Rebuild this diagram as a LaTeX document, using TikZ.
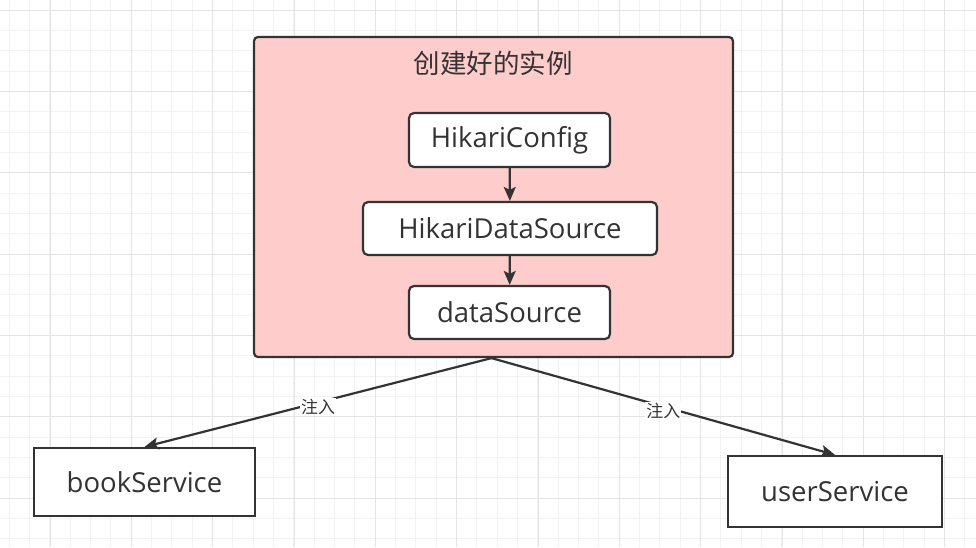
\documentclass[tikz,border=0pt]{standalone}
\usepackage{fontspec}
\setmainfont{Open Sans}
\newfontfamily\cjk{Noto Sans CJK SC}
\usetikzlibrary{arrows.meta}
\definecolor{ink}{HTML}{333333}
\definecolor{pinkfill}{HTML}{FFCCCC}
\definecolor{gridfine}{HTML}{F2F2F2}
\definecolor{gridmajor}{HTML}{E4E4E4}
\tikzset{
  container/.style={draw=ink, fill=pinkfill, line width=2.2pt, rounded corners=4pt},
  inner/.style={draw=ink, fill=white, line width=2.2pt, rounded corners=5pt, text=ink,
    font=\fontsize{27.5}{30}\selectfont, inner sep=0pt, minimum height=54pt},
  svc/.style={draw=ink, fill=white, line width=2.2pt, text=ink,
    font=\fontsize{27.5}{30}\selectfont, inner sep=0pt},
  conn/.style={draw=ink, line width=2.2pt, -{Stealth[length=14pt,width=12pt,inset=3pt]}},
  lbl/.style={fill=white, text=ink, font=\cjk\fontsize{17}{19}\selectfont, inner sep=1pt}
}
\begin{document}
\begin{tikzpicture}[x=1pt,y=-1pt]
\useasboundingbox (0,0) rectangle (976,547);
\fill[white] (0,0) rectangle (976,547);
% grid
\foreach \i in {0,...,47} \draw[gridfine,line width=1pt] ({9.33+20.333*\i},0) -- ++(0,547);
\foreach \j in {0,...,26} \draw[gridfine,line width=1pt] (0,{10+20.333*\j}) -- ++(976,0);
\foreach \i in {0,...,11} \draw[gridmajor,line width=1pt] ({50+81.333*\i},0) -- ++(0,547);
\foreach \j in {0,...,6} \draw[gridmajor,line width=1pt] (0,{10+81.333*\j}) -- ++(976,0);

% container
\node[container, minimum width=479pt, minimum height=320pt, inner sep=0pt] (big) at (493.5,197) {};
\node[text=ink, font=\cjk\fontsize{26.5}{30}\selectfont] (title) at (493,63) {创建好的实例};

\node[inner, minimum width=201pt] (hc) at (509.5,140) {HikariConfig};
\node[inner, minimum width=294pt, minimum height=53pt] (hds) at (510,228.5) {HikariDataSource};
\node[inner, minimum width=201pt, minimum height=53pt] (ds) at (509.5,312.5) {dataSource};

\draw[conn] (hc) -- (hds);
\draw[conn] (hds) -- (ds);

\node[svc, minimum width=221pt, minimum height=68pt] (book) at (144.5,482) {bookService};
\node[svc, minimum width=214pt, minimum height=71pt] (user) at (835,491.5) {userService};

\draw[conn] ([xshift=-2pt]big.south) -- node[lbl, yshift=-4pt] {注入} (book.north);
\draw[conn] ([xshift=-2pt]big.south) -- node[lbl, yshift=-4pt] {注入} (user.north);
\end{tikzpicture}
\end{document}
